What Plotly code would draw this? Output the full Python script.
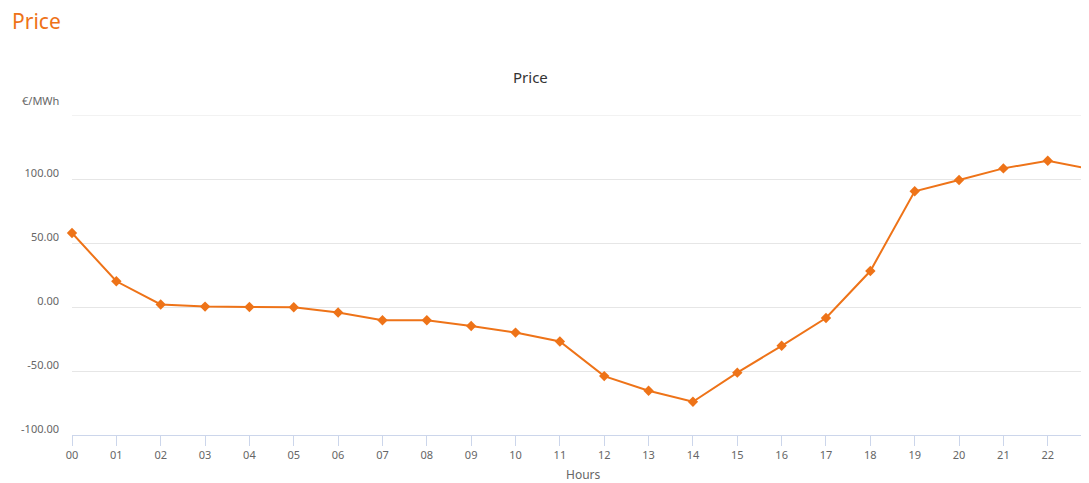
import plotly.graph_objects as go

hours = ["00", "01", "02", "03", "04", "05", "06", "07", "08", "09", "10", "11",
         "12", "13", "14", "15", "16", "17", "18", "19", "20", "21", "22", "23"]
price = [57.8, 20.1, 2.0, 0.3, 0.0, -0.2, -4.3, -10.4, -10.4, -14.8, -20.0, -26.9,
         -54.0, -65.4, -74.0, -51.3, -30.3, -8.6, 28.1, 90.4, 99.2, 108.3, 114.3, 107.5]
y_ticks = [-100, -50, 0, 50, 100, 150]
y_ticktext = ["-100.00", "-50.00", "0.00", "50.00", "100.00", ""]

OFF = 8  # page body margin
W, H = 1089 - OFF, 483 - OFF
L, R, T, B = 72 - OFF, 0, 115 - OFF, 48
orange = "#EE7318"
font = "Noto Sans"


def px_x(x):
    return (x - OFF - L) / (W - L - R)


def px_y(y):
    return 1 + (T - (y - OFF)) / (H - T - B)


fig = go.Figure()
fig.add_trace(go.Scatter(
    x=hours, y=price, mode="lines+markers",
    line=dict(color=orange, width=2),
    marker=dict(symbol="diamond", size=8, color=orange),
    cliponaxis=False, showlegend=False,
))

# top gridline (plotly omits gridlines at the range edge)
fig.add_shape(type="line", xref="paper", yref="y", x0=0, x1=1,
              y0=max(y_ticks), y1=max(y_ticks),
              line=dict(color="#e6e6e6", width=1), layer="below")

fig.update_layout(
    width=W, height=H,
    margin=dict(l=L, r=R, t=T, b=B),
    paper_bgcolor="white", plot_bgcolor="white",
    font=dict(family=font, color="#666666", size=11),
    xaxis=dict(
        type="category", range=[0, 22.93],
        showgrid=False, zeroline=False,
        showline=True, linecolor="#ccd6eb", linewidth=1,
        ticks="outside", ticklen=10, tickcolor="#ccd6eb",
        tickfont=dict(size=11, color="#666666"),
    ),
    yaxis=dict(
        range=[-100, 150], tickvals=y_ticks, ticktext=y_ticktext,
        showgrid=True, gridcolor="#e6e6e6", gridwidth=1,
        zeroline=False, showline=False, ticks="",
        ticklabelstandoff=12, ticklabelshift=-6,
        tickfont=dict(size=11, color="#666666"),
    ),
    annotations=[
        dict(text="Price", xref="paper", yref="paper",
             x=px_x(10), y=px_y(21),
             xanchor="left", yanchor="middle", showarrow=False,
             font=dict(family=font, size=21, color=orange)),
        dict(text="€/MWh", xref="paper", yref="paper",
             x=px_x(20), y=px_y(100),
             xanchor="left", yanchor="middle", showarrow=False,
             font=dict(family=font, size=11, color="#666666")),
        dict(text="Price", xref="paper", yref="paper",
             x=px_x(530), y=px_y(77),
             xanchor="center", yanchor="middle", showarrow=False,
             font=dict(family=font, size=15, color="#333333")),
        dict(text="Hours", xref="paper", yref="paper",
             x=px_x(583), y=px_y(474),
             xanchor="center", yanchor="middle", showarrow=False,
             font=dict(family=font, size=12, color="#666666")),
    ],
)

fig.write_html("out.html")
